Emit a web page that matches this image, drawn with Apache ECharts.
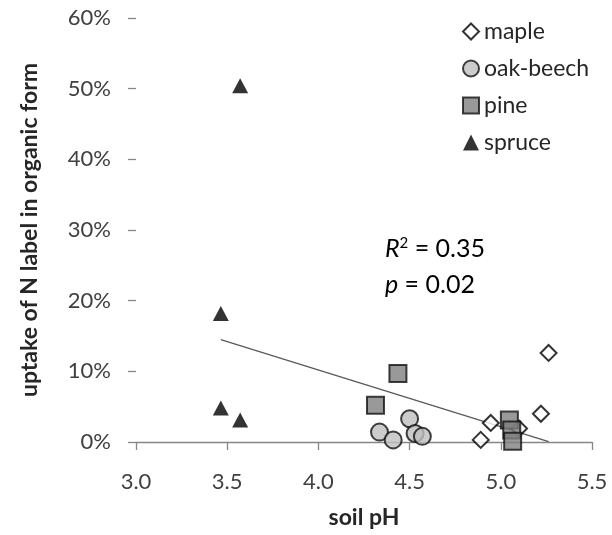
<!DOCTYPE html>
<html>
<head>
<meta charset="utf-8">
<script src="https://cdn.jsdelivr.net/npm/echarts@6/dist/echarts.min.js"></script>
<style>html,body{margin:0;padding:0;background:#fff}#c{width:612px;height:535px}</style>
</head>
<body>
<div id="c"></div>
<script>
// soil pH, uptake (fraction)
const mapleX = [5.262, 5.22, 5.10, 4.945, 4.89];
const mapleY = [0.126, 0.040, 0.019, 0.027, 0.003];
const oakX = [4.335, 4.41, 4.50, 4.53, 4.57];
const oakY = [0.014, 0.003, 0.033, 0.012, 0.008];
const pineX = [4.436, 4.313, 5.047, 5.06, 5.065];
const pineY = [0.097, 0.052, 0.031, 0.017, 0.001];
const spruceX = [3.571, 3.465, 3.465, 3.571];
const spruceY = [0.504, 0.182, 0.048, 0.031];
const trendX = [3.465, 5.262];
const trendY = [0.145, 0.0005];
const xTicks = [3.0, 3.5, 4.0, 4.5, 5.0, 5.5];
const yTicks = [0, 0.1, 0.2, 0.3, 0.4, 0.5, 0.6];

const zip = (xs, ys) => xs.map((x, i) => [x, ys[i]]);
const FONT = 'Lato';
const chart = echarts.init(document.getElementById('c'));
chart.setOption({
  animation: false,
  textStyle: {fontFamily: FONT},
  grid: {left: 136, right: 20, top: 18, bottom: 93},
  legend: {
    orient: 'vertical', left: 462, top: 20, padding: 0,
    itemWidth: 16, itemHeight: 16, itemGap: 14,
    textStyle: {fontFamily: FONT, fontSize: 23, color: '#262626'},
    data: ['maple', 'oak-beech', 'pine', 'spruce']
  },
  xAxis: {
    type: 'value', min: xTicks[0], max: xTicks[xTicks.length - 1], interval: 0.5,
    splitLine: {show: false},
    axisLine: {show: true, lineStyle: {color: '#868686', width: 1.3}},
    axisTick: {show: true, length: 8, lineStyle: {color: '#868686', width: 1.3}},
    axisLabel: {fontFamily: FONT, fontSize: 22, color: '#404040', margin: 29, formatter: v => v.toFixed(1)},
    name: 'soil pH', nameLocation: 'middle', nameGap: 64,
    nameTextStyle: {fontFamily: FONT, fontSize: 23, fontWeight: 'bold', color: '#262626'}
  },
  yAxis: {
    type: 'value', min: yTicks[0], max: yTicks[yTicks.length - 1], interval: 0.1,
    splitLine: {show: false},
    axisLine: {show: false},
    axisTick: {show: true, length: 8, inside: false, lineStyle: {color: '#868686', width: 1.3}},
    axisLabel: {fontFamily: FONT, fontSize: 22, color: '#404040', margin: 25, formatter: v => Math.round(v * 100) + '%'},
    name: 'uptake of N label in organic form', nameLocation: 'middle', nameGap: 95,
    nameTextStyle: {fontFamily: FONT, fontSize: 23, fontWeight: 'bold', color: '#262626'}
  },
  series: [
    {
      name: 'trend', type: 'line', data: zip(trendX, trendY), symbol: 'none', silent: true,
      lineStyle: {color: '#595959', width: 1.3}, z: 1
    },
    {
      name: 'spruce', type: 'scatter', data: zip(spruceX, spruceY), symbol: 'triangle', symbolSize: [16, 15],
      itemStyle: {color: '#000', borderColor: '#000', borderWidth: 0}, z: 2
    },
    {
      name: 'maple', type: 'scatter', data: zip(mapleX, mapleY), symbol: 'diamond', symbolSize: 16,
      itemStyle: {color: '#fff', borderColor: '#000', borderWidth: 2}, z: 3
    },
    {
      name: 'oak-beech', type: 'scatter', data: zip(oakX, oakY), symbol: 'circle', symbolSize: 17,
      itemStyle: {color: '#bfbfbf', borderColor: '#111', borderWidth: 2}, z: 4
    },
    {
      name: 'pine', type: 'scatter', data: zip(pineX, pineY), symbol: 'rect', symbolSize: 17,
      itemStyle: {color: '#7f7f7f', borderColor: '#111', borderWidth: 2}, z: 5
    }
  ],
  graphic: [
    {
      type: 'text', left: 385, top: 236, silent: true,
      style: {
        text: '{i|R}{s|2}{n| = 0.35}',
        rich: {
          i: {fontFamily: FONT, fontSize: 25, fontStyle: 'italic', fill: '#000'},
          s: {fontFamily: FONT, fontSize: 15, fill: '#000', verticalAlign: 'top', padding: [0, 0, 10, 0]},
          n: {fontFamily: FONT, fontSize: 25, fill: '#000'}
        }
      }
    },
    {
      type: 'text', left: 385, top: 272, silent: true,
      style: {
        text: '{i|p}{n| = 0.02}',
        rich: {
          i: {fontFamily: FONT, fontSize: 25, fontStyle: 'italic', fill: '#000'},
          n: {fontFamily: FONT, fontSize: 25, fill: '#000'}
        }
      }
    }
  ]
});
</script>
</body>
</html>
